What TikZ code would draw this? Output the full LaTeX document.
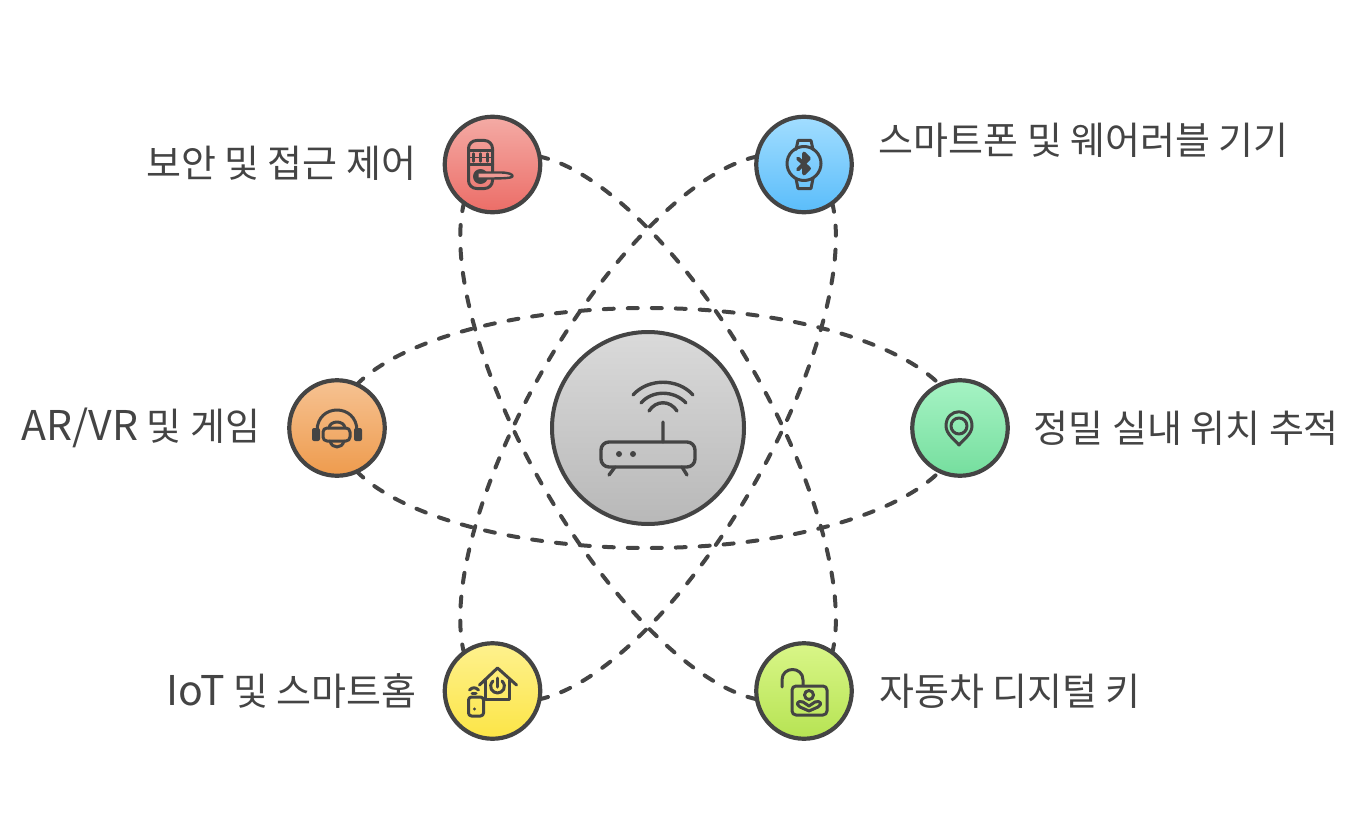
\documentclass[tikz,border=0pt]{standalone}
\usepackage{fontspec}
\setmainfont{Noto Sans CJK KR}
\usetikzlibrary{backgrounds}
\definecolor{ink}{HTML}{444444}
\definecolor{lockhi}{HTML}{F4ABA5}
\definecolor{locklo}{HTML}{EC6D67}
\definecolor{lockmid}{HTML}{F09A94}
\definecolor{watchhi}{HTML}{A2DDFF}
\definecolor{watchlo}{HTML}{5ABDFA}
\definecolor{headsethi}{HTML}{F6C292}
\definecolor{headsetlo}{HTML}{EE9B4D}
\definecolor{pinhi}{HTML}{A6F3C4}
\definecolor{pinlo}{HTML}{75DE9E}
\definecolor{homehi}{HTML}{FEF18E}
\definecolor{homelo}{HTML}{FCE546}
\definecolor{keyhi}{HTML}{D9F688}
\definecolor{keylo}{HTML}{B6E353}
\definecolor{routerhi}{HTML}{DADADA}
\definecolor{routerlo}{HTML}{B8B8B8}
\newcommand{\latinword}[1]{{\fontsize{41pt}{38pt}\selectfont #1}}
\tikzset{
  spoke/.style 2 args={circle,draw=ink,line width=4.2pt,minimum size=95.5pt,inner sep=0pt,top color=#1,bottom color=#2},
  caption/.style={font=\fontsize{38pt}{38pt}\selectfont,text=ink,inner sep=0pt},
  link/.style={draw=ink,line width=4pt,line cap=round,dash pattern=on 10pt off 14pt},
  glyph/.style={draw=ink,line width=3pt,line cap=round,line join=round}
}
\begin{document}
\begin{tikzpicture}[x=1pt,y=-1pt]
\useasboundingbox (0,0) rectangle (1354,840);
% nodes
\node[spoke={lockhi}{locklo}] (lock) at (492.5,164.5) {};
\node[spoke={watchhi}{watchlo}] (watch) at (804,164.5) {};
\node[spoke={headsethi}{headsetlo}] (headset) at (337,428) {};
\node[spoke={pinhi}{pinlo}] (pin) at (960,428) {};
\node[spoke={homehi}{homelo}] (home) at (492.5,691) {};
\node[spoke={keyhi}{keylo}] (carkey) at (804,691) {};
\node[spoke={routerhi}{routerlo},line width=4pt,minimum size=192pt] (router) at (648,428) {};
% labels
\node[caption,anchor=east] (locklabel) at (416.5,163) {보안 및 접근 제어};
\node[caption,anchor=west] (watchlabel) at (878.5,140) {스마트폰 및 웨어러블 기기};
\node[caption,anchor=east] (headsetlabel) at (260.5,428) {\latinword{AR/VR} 및 게임};
\node[caption,anchor=west] (pinlabel) at (1033.5,428) {정밀 실내 위치 추적};
\node[caption,anchor=east] (homelabel) at (417,691) {\latinword{IoT} 및 스마트홈};
\node[caption,anchor=west] (carkeylabel) at (879,691) {자동차 디지털 키};
% orbits
\begin{scope}[on background layer]
\foreach \lft/\rgt/\ang in {headset/pin/0,home/watch/60,lock/carkey/-60}{
  \begin{scope}[rotate around={\ang:(648,428)}]
    \coordinate (upper) at (648,308);
    \coordinate (lower) at (648,548);
    \draw[link] (\lft.center) .. controls (334,362) and (475,308) .. (upper) .. controls (821,308) and (962,362) .. (\rgt.center);
    \draw[link] (\lft.center) .. controls (334,494) and (475,548) .. (lower) .. controls (821,548) and (962,494) .. (\rgt.center);
  \end{scope}
}
\end{scope}
% router icon
\begin{scope}[shift={(router.center)},glyph/.append style={line width=3.4pt}]
\draw[glyph,rounded corners=8pt] (-47,14) rectangle (47,39);
\fill[ink] (-29,26) circle (3) (-15,26) circle (3);
\draw[glyph] (-33,39) -- (-39,47) (34,39) -- (39,47) (15,-6) -- (15,14);
\draw[glyph] (-15,-33) .. controls (0,-50) and (30,-50) .. (45,-33);
\draw[glyph] (-7,-25) .. controls (4,-38) and (26,-38) .. (38,-25);
\draw[glyph] (1,-17) .. controls (8,-28) and (22,-28) .. (29,-17);
\end{scope}
% lock icon
\begin{scope}[shift={(lock.center)}]
\draw[glyph,rounded corners=8pt] (-24,-24) rectangle (0,24);
\draw[glyph] (-24,-14) -- (0,-14) (-24,0) -- (0,0);
\foreach \i in {-19,-12,-5}{
  \draw[glyph,line width=2.4pt] (\i,-11) -- (\i,-3);
}
\draw[glyph,line width=1.6pt] (-22,-7) -- (-2,-7);
\fill[ink] (-12,12) circle (7.5);
\draw[glyph,fill=lockmid,line width=2.4pt] (-14,8) -- (8,8) .. controls (16,8) and (21,10) .. (20,12) .. controls (18,14) and (8,14) .. (-14,14);
\end{scope}
% watch icon
\begin{scope}[shift={(watch.center)}]
\draw[glyph] (0,-1) circle (17);
\draw[glyph] (-8,-15) -- (-6,-24) -- (7,-24) -- (9,-15);
\draw[glyph] (-8,14) -- (-6,24) -- (7,24) -- (9,14);
\draw[glyph,line width=3.8pt] (-6,-6) -- (5,4) -- (0,9) -- (0,-11) -- (5,-6) -- (-6,5);
\end{scope}
% headset icon
\begin{scope}[shift={(headset.center)}]
\draw[glyph] (-20,3) .. controls (-20,-25) and (20,-25) .. (20,3);
\fill[ink,rounded corners=2pt] (-25,0) rectangle (-17,13) (17,0) rectangle (25,13);
\draw[glyph,rounded corners=4pt] (-14,0) rectangle (13,13);
\draw[glyph] (-8,0) .. controls (-7,-8) and (7,-8) .. (8,0);
\draw[glyph] (-7,13) .. controls (-5,21) and (5,21) .. (7,13);
\end{scope}
% pin icon
\begin{scope}[shift={(pin.center)}]
\draw[glyph] (-1,17) .. controls (-5,12) and (-14,6) .. (-14,-2) .. controls (-14,-21) and (12,-21) .. (12,-2) .. controls (12,6) and (3,12) .. (-1,17) -- cycle;
\draw[glyph] (-1,-2) circle (8);
\end{scope}
% home icon
\begin{scope}[shift={(home.center)}]
\draw[glyph] (-13,-6) -- (5,-23) -- (24,-6);
\draw[glyph] (-7,-11) -- (-7,8) -- (17,8) -- (17,-11);
\draw[glyph] (0.5,-10) .. controls (-5,-4) and (0,2) .. (5,2) .. controls (10,2) and (15,-4) .. (9.5,-10);
\draw[glyph] (5,-13) -- (5,-4);
\draw[glyph,rounded corners=3pt] (-24,6) rectangle (-9,25);
\fill[ink] (-18,18) circle (1.6);
\draw[glyph] (-23,-1) .. controls (-20,-4) and (-17,-4) .. (-14,-1);
\draw[glyph] (-20.5,2.5) -- (-16.5,2.5);
\end{scope}
% key icon
\begin{scope}[shift={(carkey.center)}]
\draw[glyph] (-22,-4) -- (-22,-11) .. controls (-22,-25) and (-1,-25) .. (-1,-11) -- (-1,-6);
\draw[glyph,rounded corners=4pt] (-12,-5) rectangle (23,24);
\draw[glyph] (5,4) circle (4.5);
\draw[glyph] (-1,11) .. controls (-6,9) and (-9,13) .. (-4,16) -- (5,20) -- (14,16) .. controls (19,13) and (16,9) .. (11,11) -- (5,15) -- cycle;
\end{scope}
\end{tikzpicture}
\end{document}
